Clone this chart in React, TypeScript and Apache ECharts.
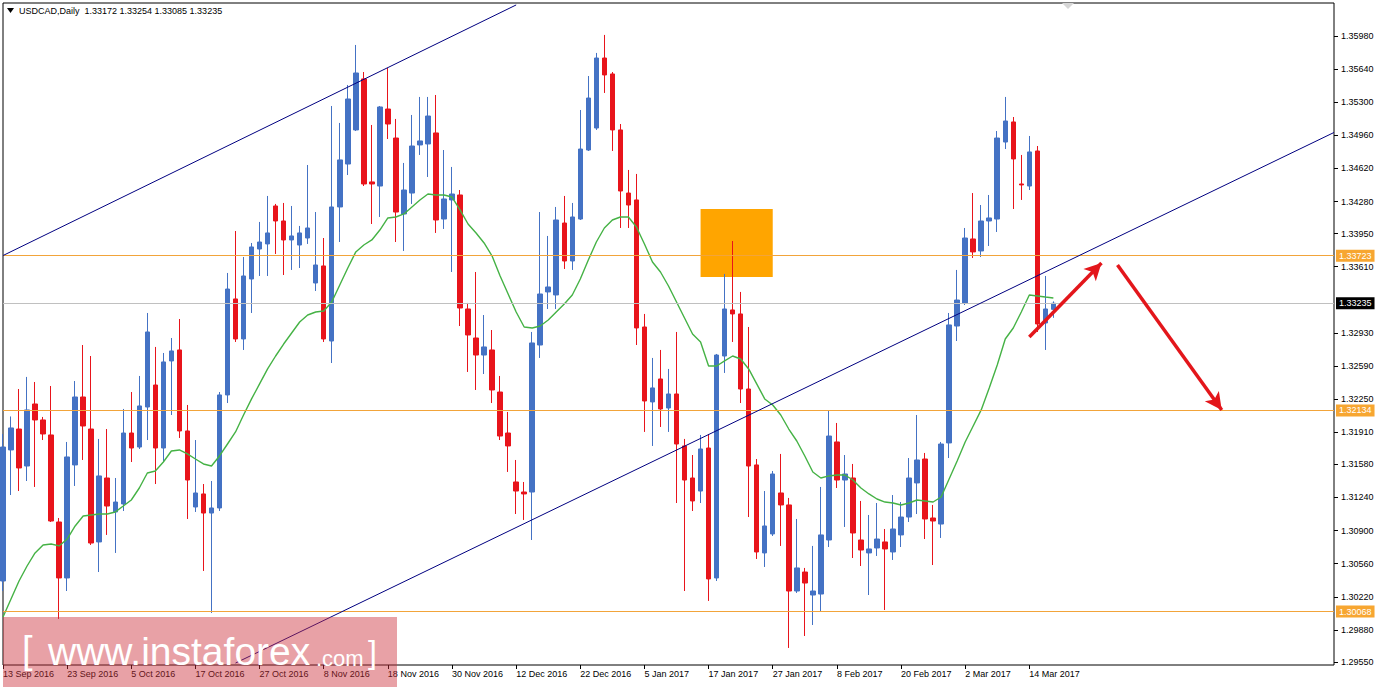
import React, { useEffect, useRef } from 'react';
import * as echarts from 'echarts';

const FONT = '"Liberation Sans", Arial, sans-serif';

const xLabels = ['13 Sep 2016', '23 Sep 2016', '5 Oct 2016', '17 Oct 2016', '27 Oct 2016', '8 Nov 2016', '18 Nov 2016', '30 Nov 2016', '12 Dec 2016', '22 Dec 2016', '5 Jan 2017', '17 Jan 2017', '27 Jan 2017', '8 Feb 2017', '20 Feb 2017', '2 Mar 2017', '14 Mar 2017'];
const labelStep = 8;
const slotCount = 167;

const yTicks = [1.3598, 1.3564, 1.353, 1.3496, 1.3462, 1.3428, 1.3395, 1.3361, 1.3293, 1.3259, 1.3225, 1.3191, 1.3158, 1.3124, 1.309, 1.3056, 1.3022, 1.2988, 1.2955];
const yMin = 1.29519;
const yMax = 1.36319;

const opens = [1.30382, 1.31728, 1.31943, 1.31563, 1.32200, 1.32036, 1.31882, 1.30988, 1.30413, 1.31574,
  1.32272, 1.31943, 1.30783, 1.31440, 1.31091, 1.31173, 1.31902, 1.31758, 1.32169, 1.32395,
  1.31748, 1.32642, 1.32755, 1.31923, 1.31142, 1.31276, 1.31080, 1.31132, 1.32293, 1.33279,
  1.32868, 1.33484, 1.33792, 1.33844, 1.34234, 1.34080, 1.33885, 1.33833, 1.33905, 1.33443,
  1.33618, 1.32847, 1.34224, 1.34665, 1.35015, 1.35539, 1.34481, 1.34439, 1.35230, 1.34932,
  1.34152, 1.34367, 1.34861, 1.34871, 1.34984, 1.34100, 1.34296, 1.34347, 1.33176, 1.32878,
  1.32703, 1.32755, 1.32323, 1.31902, 1.31399, 1.31296, 1.31296, 1.32806, 1.33351, 1.33320,
  1.34059, 1.33669, 1.34100, 1.34809, 1.35035, 1.35754, 1.35590, 1.35015, 1.34367, 1.34296,
  1.32991, 1.32221, 1.32457, 1.32159, 1.32303, 1.31769, 1.31440, 1.31306, 1.31748, 1.30413,
  1.32693, 1.33166, 1.33125, 1.32354, 1.31574, 1.30670, 1.30865, 1.31286, 1.31163, 1.30279,
  1.30474, 1.30238, 1.30248, 1.30803, 1.31810, 1.31419, 1.31440, 1.30803, 1.30670, 1.30721,
  1.30783, 1.30680, 1.30855, 1.31039, 1.31389, 1.31635, 1.31029, 1.30967, 1.31800, 1.33001,
  1.33238, 1.33895, 1.33772, 1.34080, 1.34100, 1.34891, 1.35097, 1.34460, 1.34439, 1.34799,
  1.33032, 1.33172];

const closes = [1.31758, 1.31954, 1.31543, 1.32139, 1.32036, 1.31892, 1.30998, 1.30413, 1.31656, 1.32272,
  1.31974, 1.30772, 1.31461, 1.31152, 1.31193, 1.31902, 1.31748, 1.32180, 1.32940, 1.31748,
  1.32632, 1.32745, 1.31923, 1.31419, 1.31286, 1.31080, 1.31132, 1.32293, 1.33381, 1.32868,
  1.33515, 1.33813, 1.33864, 1.33957, 1.34080, 1.33885, 1.33926, 1.33957, 1.34008, 1.33628,
  1.32868, 1.34224, 1.34707, 1.35333, 1.35600, 1.34460, 1.34460, 1.35251, 1.35076, 1.34172,
  1.34398, 1.34850, 1.34902, 1.35158, 1.34090, 1.34306, 1.34357, 1.33186, 1.32909, 1.32703,
  1.32786, 1.32344, 1.31871, 1.31769, 1.31306, 1.31276, 1.32827, 1.33330, 1.33402, 1.34090,
  1.33669, 1.34121, 1.34819, 1.35343, 1.35754, 1.35580, 1.35015, 1.34388, 1.34244, 1.32981,
  1.32231, 1.32365, 1.32149, 1.32303, 1.31789, 1.31419, 1.31204, 1.31738, 1.30403, 1.32703,
  1.33176, 1.33125, 1.32354, 1.31563, 1.30680, 1.30947, 1.31481, 1.31163, 1.30279, 1.30516,
  1.30361, 1.30279, 1.30855, 1.31871, 1.31419, 1.31481, 1.30875, 1.30700, 1.30711, 1.30813,
  1.30711, 1.30916, 1.31039, 1.31440, 1.31625, 1.31019, 1.30998, 1.31789, 1.33012, 1.33268,
  1.33905, 1.33762, 1.34080, 1.34111, 1.34932, 1.35107, 1.34717, 1.34450, 1.34789, 1.33022,
  1.33176, 1.33235];

const lows = [1.30279, 1.31265, 1.31306, 1.31409, 1.31348, 1.31830, 1.30988, 1.29992, 1.30279, 1.31358,
  1.31625, 1.30752, 1.30474, 1.30855, 1.30670, 1.31101, 1.31604, 1.31738, 1.31830, 1.31378,
  1.31615, 1.32087, 1.31851, 1.31019, 1.31091, 1.30485, 1.30053, 1.31101, 1.32210, 1.32837,
  1.32755, 1.33135, 1.33515, 1.33515, 1.33741, 1.33525, 1.33577, 1.33597, 1.33844, 1.33361,
  1.32837, 1.32621, 1.33864, 1.34552, 1.35004, 1.34439, 1.34049, 1.34121, 1.34922, 1.33864,
  1.33772, 1.34255, 1.34758, 1.34532, 1.33957, 1.33998, 1.33556, 1.33001, 1.32529, 1.32344,
  1.32508, 1.32210, 1.31830, 1.31502, 1.31070, 1.31009, 1.30803, 1.32673, 1.33176, 1.33176,
  1.33587, 1.33577, 1.34090, 1.34799, 1.35015, 1.35395, 1.34799, 1.34008, 1.34008, 1.32806,
  1.31913, 1.31769, 1.31964, 1.31913, 1.31183, 1.30279, 1.31101, 1.31183, 1.30177, 1.30382,
  1.32519, 1.32837, 1.32210, 1.31039, 1.30608, 1.30526, 1.30844, 1.30742, 1.29694, 1.30259,
  1.29817, 1.29930, 1.30064, 1.30731, 1.31337, 1.30937, 1.30618, 1.30536, 1.30238, 1.30639,
  1.30084, 1.30598, 1.30731, 1.30988, 1.31070, 1.30813, 1.30546, 1.30824, 1.31645, 1.32847,
  1.33217, 1.33700, 1.33710, 1.33823, 1.33967, 1.34819, 1.34203, 1.34296, 1.34398, 1.32940,
  1.32755, 1.33085];

const highs = [1.31892, 1.32072, 1.32354, 1.32478, 1.32426, 1.32067, 1.32385, 1.31029, 1.31810, 1.32436,
  1.32806, 1.32693, 1.31841, 1.31943, 1.31440, 1.32149, 1.32323, 1.32488, 1.33135, 1.32786,
  1.32724, 1.32878, 1.33073, 1.32190, 1.31830, 1.31378, 1.31409, 1.32323, 1.33546, 1.33977,
  1.33710, 1.33854, 1.34070, 1.34337, 1.34255, 1.34265, 1.34234, 1.34029, 1.34655, 1.34172,
  1.33905, 1.35261, 1.35087, 1.35477, 1.35888, 1.35610, 1.35066, 1.35261, 1.35652, 1.35128,
  1.34676, 1.35169, 1.35354, 1.35354, 1.35374, 1.34809, 1.34635, 1.34398, 1.33238, 1.33556,
  1.33114, 1.32960, 1.32488, 1.32118, 1.31625, 1.31399, 1.32940, 1.34172, 1.33926, 1.34224,
  1.34337, 1.34265, 1.35220, 1.35569, 1.35806, 1.35991, 1.35610, 1.35076, 1.34604, 1.34563,
  1.33125, 1.32673, 1.32755, 1.32560, 1.32940, 1.31841, 1.31676, 1.31882, 1.31892, 1.32714,
  1.33536, 1.33874, 1.33351, 1.32991, 1.31635, 1.31306, 1.31512, 1.31687, 1.31235, 1.31019,
  1.30516, 1.30742, 1.31348, 1.32128, 1.32005, 1.31676, 1.31584, 1.31204, 1.31060, 1.31183,
  1.30916, 1.31265, 1.31193, 1.31645, 1.32087, 1.31697, 1.31163, 1.31810, 1.33135, 1.33577,
  1.34008, 1.34367, 1.34244, 1.34347, 1.35004, 1.35354, 1.35148, 1.34758, 1.34953, 1.34850,
  1.33515, 1.33254];

const movingAverage = [1.30012, 1.30197, 1.30382, 1.30536, 1.30670, 1.30752, 1.30762, 1.30742, 1.30813, 1.30947,
  1.31050, 1.31060, 1.31070, 1.31070, 1.31091, 1.31152, 1.31214, 1.31337, 1.31491, 1.31512,
  1.31604, 1.31717, 1.31728, 1.31687, 1.31635, 1.31584, 1.31563, 1.31666, 1.31789, 1.31913,
  1.32087, 1.32252, 1.32406, 1.32560, 1.32693, 1.32816, 1.32929, 1.33042, 1.33114, 1.33145,
  1.33155, 1.33248, 1.33423, 1.33597, 1.33762, 1.33833, 1.33885, 1.33987, 1.34111, 1.34121,
  1.34152, 1.34224, 1.34296, 1.34357, 1.34347, 1.34347, 1.34326, 1.34193, 1.34049, 1.33957,
  1.33854, 1.33720, 1.33515, 1.33330, 1.33145, 1.32991, 1.32981, 1.33001, 1.33063, 1.33145,
  1.33227, 1.33320, 1.33484, 1.33679, 1.33864, 1.34008, 1.34090, 1.34121, 1.34121, 1.34018,
  1.33844, 1.33659, 1.33556, 1.33412, 1.33248, 1.33083, 1.32919, 1.32837, 1.32590, 1.32590,
  1.32642, 1.32693, 1.32662, 1.32560, 1.32406, 1.32252, 1.32190, 1.32087, 1.31943, 1.31820,
  1.31666, 1.31502, 1.31440, 1.31461, 1.31471, 1.31471, 1.31419, 1.31337, 1.31276, 1.31224,
  1.31193, 1.31183, 1.31163, 1.31183, 1.31214, 1.31204, 1.31193, 1.31245, 1.31430, 1.31615,
  1.31810, 1.31974, 1.32139, 1.32365, 1.32601, 1.32868, 1.32981, 1.33145, 1.33320, 1.33310,
  1.33299, 1.33289];

const levelLines = [1.33723, 1.32134, 1.30068];
const currentPrice = 1.33235;
const titleText = 'USDCAD,Daily  1.33172 1.33254 1.33085 1.33235';

// trend channel endpoints: [slot index, price]
const upperChannel = [[0, 1.33725], [64, 1.36299]];
const lowerChannel = [[29, 1.29539], [166, 1.34989]];
// highlighted zone: [slot, price] corners
const zoneCorners = [[87, 1.34203], [96, 1.33505]];
// forecast arrows: [start, end]
const arrowUp = [[128, 1.32888], [137, 1.33649]];
const arrowDown = [[139, 1.33628], [152, 1.32139]];

const BULL = '#4472C4';
const BEAR = '#E8141B';
const ORANGE = '#F2A43A';

export default function App() {
  const ref = useRef<HTMLDivElement>(null);

  useEffect(() => {
    const el = ref.current as HTMLDivElement;
    const chart = echarts.init(el, null, { renderer: 'svg' });
    const categories = Array.from({ length: slotCount }, (_, i) => String(i));
    const candleData = opens.map((o, i) => [o, closes[i], lows[i], highs[i]]);
    const showTick = (index: number) => index % labelStep === 0 && index / labelStep < xLabels.length;
    const pt = (p: number[]) => ({ coord: [categories[p[0]], p[1]] });

    const levelItems = levelLines.map((v) => ({
      yAxis: v,
      lineStyle: { color: ORANGE, width: 1, type: 'solid' },
      label: {
        show: true, position: 'end', formatter: v.toFixed(5), distance: 2,
        backgroundColor: '#F7A631', color: '#fff', padding: [2, 3, 1, 3],
        fontSize: 9, fontFamily: FONT,
      },
    }));

    const trend = (a: number[][]) => [
      { ...pt(a[0]), lineStyle: { color: '#000080', width: 1, type: 'solid' } },
      { ...pt(a[1]), lineStyle: { color: '#000080', width: 1, type: 'solid' } },
    ];
    const arrow = (a: number[][]) => [
      { ...pt(a[0]), symbol: 'none', lineStyle: { color: '#E3161B', width: 3.5, type: 'solid' } },
      { ...pt(a[1]), symbol: 'arrow', symbolSize: [13, 17], lineStyle: { color: '#E3161B', width: 3.5, type: 'solid' } },
    ];

    const option = {
      animation: false,
      backgroundColor: '#fff',
      textStyle: { fontFamily: FONT },
      grid: {
        left: 3, right: 45, top: 3, bottom: 22, show: true,
        borderColor: '#000', borderWidth: 1, backgroundColor: 'transparent', containLabel: false,
      },
      xAxis: {
        type: 'category',
        data: categories,
        boundaryGap: false,
        axisLine: { show: false },
        axisTick: { show: true, interval: showTick, length: 4, lineStyle: { color: '#000' } },
        axisLabel: {
          interval: showTick,
          formatter: (_v: string, index: number) => xLabels[index / labelStep] ?? '',
          align: 'left', fontSize: 9, color: '#000', margin: 4, fontFamily: FONT,
          hideOverlap: false,
        },
        splitLine: { show: false },
      },
      yAxis: {
        type: 'value',
        position: 'right',
        min: yMin,
        max: yMax,
        scale: true,
        axisLine: { show: false },
        axisTick: { show: true, customValues: yTicks, length: 4, lineStyle: { color: '#000' } },
        axisLabel: {
          customValues: yTicks,
          formatter: (v: number) => v.toFixed(5),
          fontSize: 9, color: '#000', margin: 7, fontFamily: FONT,
        },
        splitLine: { show: false },
      },
      series: [
        {
          type: 'line',
          data: [],
          z: 1,
          silent: true,
          markArea: {
            silent: true,
            precision: 5,
            itemStyle: { color: '#FFA500', opacity: 1 },
            data: [[pt(zoneCorners[0]), pt(zoneCorners[1])]],
          },
        },
        {
          type: 'candlestick',
          data: candleData,
          z: 2,
          barWidth: 5,
          silent: true,
          itemStyle: {
            color: BULL, color0: BEAR, borderColor: BULL, borderColor0: BEAR, borderWidth: 1,
          },
          markLine: {
            silent: true,
            precision: 5,
            symbol: ['none', 'none'],
            label: { show: false },
            animation: false,
            data: [
              ...levelItems,
              {
                yAxis: currentPrice,
                lineStyle: { color: '#C0C0C0', width: 1, type: 'solid' },
                label: {
                  show: true, position: 'end', formatter: currentPrice.toFixed(5), distance: 2,
                  backgroundColor: '#000', color: '#fff', padding: [2, 3, 1, 3],
                  fontSize: 9, fontFamily: FONT,
                },
              },
              trend(upperChannel),
              trend(lowerChannel),
              arrow(arrowUp),
              arrow(arrowDown),
            ],
          },
        },
        {
          type: 'line',
          data: movingAverage,
          z: 3,
          symbol: 'none',
          silent: true,
          lineStyle: { color: '#45B245', width: 1.4 },
        },
      ],
      graphic: [
        {
          type: 'polygon', z: 50, silent: true,
          shape: { points: [[1062, 3], [1074, 3], [1068, 9]] },
          style: { fill: '#D6D6D6' },
        },
        {
          type: 'polygon', z: 50, silent: true,
          shape: { points: [[7, 8], [14, 8], [10.5, 13]] },
          style: { fill: '#000' },
        },
        {
          type: 'text', z: 50, silent: true, x: 19, y: 11,
          style: { text: titleText, fill: '#000', font: `9px ${FONT}`, verticalAlign: 'middle' },
        },
        {
          type: 'rect', z: 100, silent: true,
          shape: { x: 3, y: 617, width: 394, height: 70 },
          style: { fill: 'rgba(204,46,57,0.45)' },
        },
        {
          type: 'text', z: 101, silent: true, x: 22, y: 650,
          style: { text: '[', fill: '#fff', font: `38px ${FONT}`, verticalAlign: 'middle' },
        },
        {
          type: 'text', z: 101, silent: true, x: 48, y: 651,
          style: { text: 'www.instaforex', fill: '#fff', font: `39px ${FONT}`, verticalAlign: 'middle' },
        },
        {
          type: 'text', z: 101, silent: true, x: 316, y: 658,
          style: { text: '.com', fill: '#fff', font: `22px ${FONT}`, verticalAlign: 'middle' },
        },
        {
          type: 'text', z: 101, silent: true, x: 368, y: 652,
          style: { text: ']', fill: '#fff', font: `32px ${FONT}`, verticalAlign: 'middle' },
        },
      ],
    };

    chart.setOption(option as any);
    return () => chart.dispose();
  }, []);

  return (
    <div
      ref={ref}
      style={{ position: 'absolute', left: 0, top: 0, width: 1379, height: 687, background: '#fff' }}
    />
  );
}
